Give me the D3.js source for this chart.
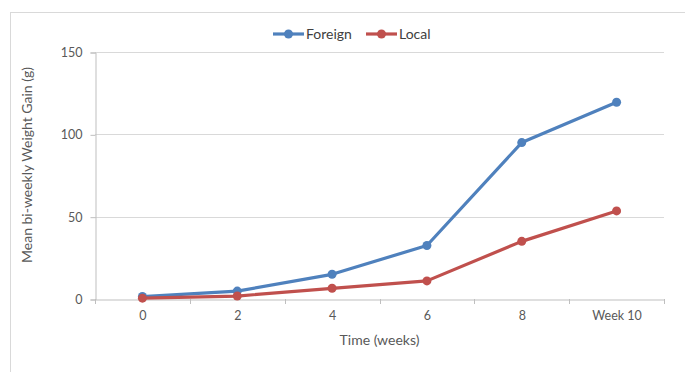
<!DOCTYPE html>
<html>
<head>
<meta charset="utf-8">
<script src="https://cdn.jsdelivr.net/npm/d3@7/dist/d3.min.js"></script>
<style>
  html, body { margin: 0; padding: 0; background: #fff; }
  svg text { font-family: Lato, "Open Sans", sans-serif; fill: #595959; }
</style>
</head>
<body>
<svg id="chart" width="685" height="372"></svg>
<script>
// Weekly time points and mean bi-weekly weight gain (g) per group
const weeks = ["0", "2", "4", "6", "8", "Week 10"];
const foreign = [1.5, 4.8, 15, 32.5, 95, 119.5];
const local = [0.5, 1.8, 6.5, 11, 35, 53.5];
const yTicks = [0, 50, 100, 150];

const seriesNames = ["Foreign", "Local"];
const seriesColors = ["#4f81bd", "#c0504d"];
const seriesValues = [foreign, local];

const svg = d3.select("#chart");
const margin = { left: 95, right: 664, top: 52, bottom: 299 };

// Chart frame (runs past the bottom edge)
svg.append("rect")
  .attr("x", 10.5).attr("y", 12.5)
  .attr("width", 690).attr("height", 380)
  .attr("fill", "#fff").attr("stroke", "#d9d9d9");

const x = d3.scaleBand().domain(weeks).range([margin.left, margin.right]);
const y = d3.scaleLinear().domain([0, 150]).range([margin.bottom, margin.top]);

// Horizontal gridlines
svg.append("g").selectAll("line").data(yTicks.filter(d => d > 0)).join("line")
  .attr("x1", margin.left).attr("x2", margin.right)
  .attr("y1", d => Math.round(y(d)) + 0.5).attr("y2", d => Math.round(y(d)) + 0.5)
  .attr("stroke", "#d9d9d9");

// Y axis
const yAxis = svg.append("g")
  .attr("transform", `translate(${margin.left + 0.5},0.5)`)
  .call(d3.axisLeft(y).tickValues(yTicks).tickSize(5).tickPadding(8));
yAxis.select(".domain").attr("stroke", "#bfbfbf");
yAxis.selectAll(".tick line").attr("stroke", "#bfbfbf");
yAxis.selectAll(".tick text").style("font-size", "12.5px").attr("fill", "#595959");

// X axis
const xAxis = svg.append("g")
  .attr("transform", `translate(0.5,${margin.bottom + 0.5})`)
  .call(d3.axisBottom(x).tickSize(0).tickPadding(12));
xAxis.select(".domain").attr("stroke", "#bfbfbf");
xAxis.selectAll(".tick text").style("font-size", "12.5px").attr("fill", "#595959");
// tick marks at category boundaries
const bounds = weeks.map(w => x(w)).concat([x(weeks[weeks.length - 1]) + x.bandwidth()]);
svg.append("g").selectAll("line").data(bounds).join("line")
  .attr("x1", d => Math.round(d) + 0.5).attr("x2", d => Math.round(d) + 0.5)
  .attr("y1", margin.bottom).attr("y2", margin.bottom + 5)
  .attr("stroke", "#bfbfbf");

// Axis titles
svg.append("text")
  .attr("x", (margin.left + margin.right) / 2).attr("y", 345)
  .attr("text-anchor", "middle").style("font-size", "14px")
  .text("Time (weeks)");
svg.append("text")
  .attr("transform", "translate(32,165) rotate(-90)")
  .attr("text-anchor", "middle").style("font-size", "14px")
  .text("Mean bi-weekly Weight Gain (g)");

// Series lines and markers
const line = d3.line()
  .x((d, i) => x(weeks[i]) + x.bandwidth() / 2)
  .y(d => y(d));

seriesValues.forEach((vals, s) => {
  const g = svg.append("g");
  g.append("path").datum(vals)
    .attr("d", line).attr("fill", "none")
    .attr("stroke", seriesColors[s]).attr("stroke-width", 3.2)
    .attr("stroke-linejoin", "round").attr("stroke-linecap", "round");
  g.selectAll("circle").data(vals).join("circle")
    .attr("cx", (d, i) => x(weeks[i]) + x.bandwidth() / 2)
    .attr("cy", d => y(d))
    .attr("r", 4.5).attr("fill", seriesColors[s]);
});

// Legend
const legendX = [273, 366];
seriesNames.forEach((name, s) => {
  const g = svg.append("g").attr("transform", `translate(${legendX[s]},34)`);
  g.append("line").attr("x1", 0).attr("x2", 31).attr("y1", 0).attr("y2", 0)
    .attr("stroke", seriesColors[s]).attr("stroke-width", 3.2);
  g.append("circle").attr("cx", 15.5).attr("cy", 0).attr("r", 4.5).attr("fill", seriesColors[s]);
  g.append("text").attr("x", 33).attr("y", 5).style("font-size", "14px")
    .attr("fill", "#404040").style("fill", "#404040").text(name);
});
</script>
</body>
</html>
